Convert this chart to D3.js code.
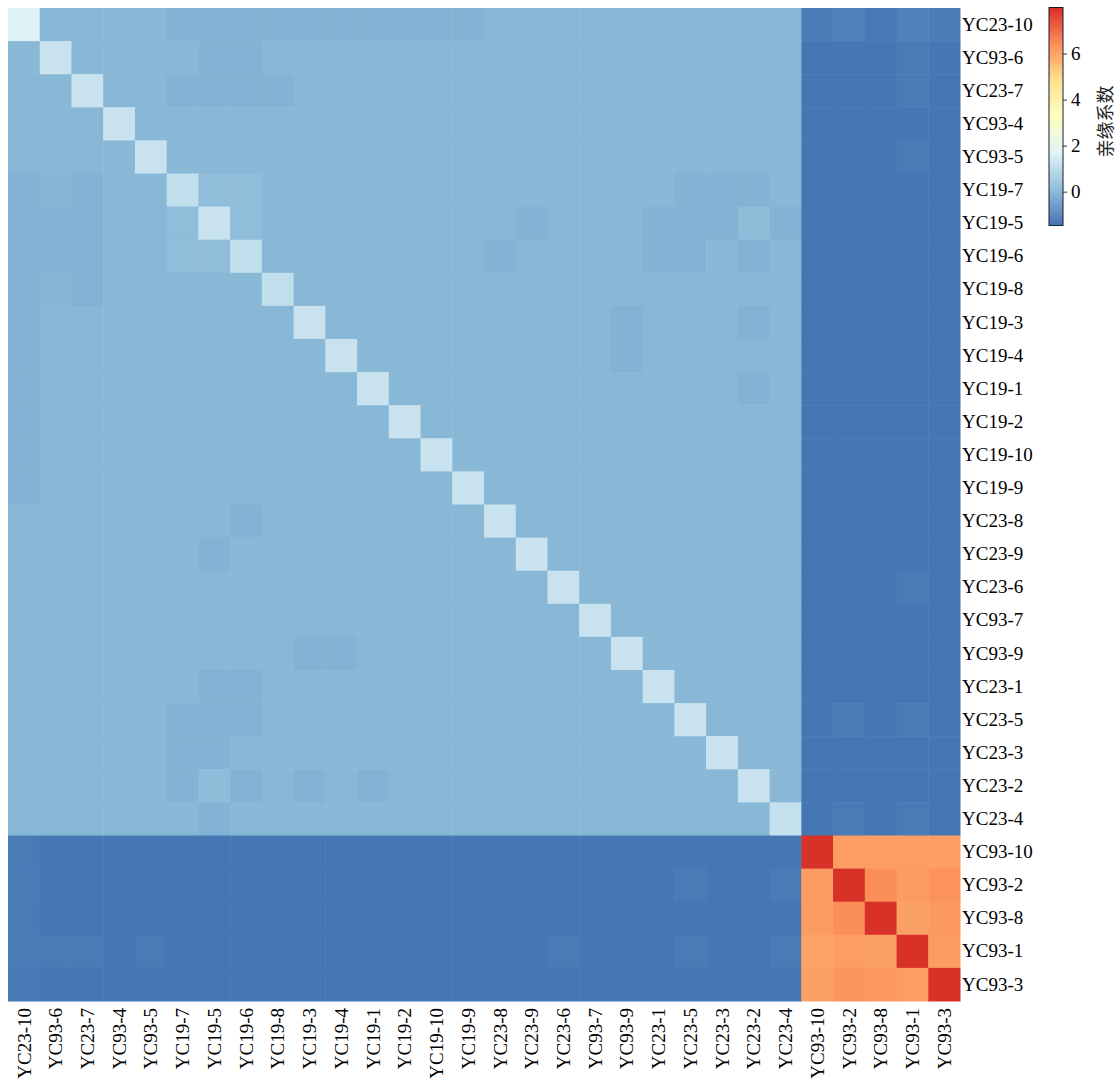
<!DOCTYPE html>
<html>
<head>
<meta charset="utf-8">
<script src="https://cdn.jsdelivr.net/npm/d3@7"></script>
<style>
  body { margin: 0; background: #fff; }
  text { font-family: "Liberation Serif", "Times New Roman", serif; }
</style>
</head>
<body>
<div id="vis"></div>
<script>
// sample order (same for rows and columns)
var samples = ["YC23-10","YC93-6","YC23-7","YC93-4","YC93-5","YC19-7","YC19-5","YC19-6","YC19-8","YC19-3",
  "YC19-4","YC19-1","YC19-2","YC19-10","YC19-9","YC23-8","YC23-9","YC23-6","YC93-7","YC93-9",
  "YC23-1","YC23-5","YC23-3","YC23-2","YC23-4","YC93-10","YC93-2","YC93-8","YC93-1","YC93-3"];

// kinship values, one row per sample
var kinship = [
  [1.62,-0.05,-0.05,-0.05,-0.05,-0.17,-0.17,-0.17,-0.17,-0.17,-0.17,-0.17,-0.17,-0.17,-0.17,-0.05,-0.05,-0.05,-0.05,-0.05,-0.05,-0.05,-0.05,-0.05,-0.05,-1.30,-1.20,-1.38,-1.22,-1.30],
  [-0.05,1.20,-0.05,-0.05,-0.05,-0.05,-0.17,-0.17,-0.05,-0.05,-0.05,-0.05,-0.05,-0.05,-0.05,-0.05,-0.05,-0.05,-0.05,-0.05,-0.05,-0.05,-0.05,-0.05,-0.05,-1.45,-1.45,-1.45,-1.35,-1.42],
  [-0.05,-0.05,1.20,-0.05,-0.05,-0.17,-0.17,-0.17,-0.17,-0.05,-0.05,-0.05,-0.05,-0.05,-0.05,-0.05,-0.05,-0.05,-0.05,-0.05,-0.05,-0.05,-0.05,-0.05,-0.05,-1.45,-1.45,-1.45,-1.35,-1.45],
  [-0.05,-0.05,-0.05,1.20,-0.05,-0.05,-0.05,-0.05,-0.05,-0.05,-0.05,-0.05,-0.05,-0.05,-0.05,-0.05,-0.05,-0.05,-0.05,-0.05,-0.05,-0.05,-0.05,-0.05,-0.05,-1.45,-1.45,-1.45,-1.45,-1.45],
  [-0.05,-0.05,-0.05,-0.05,1.20,-0.05,-0.05,-0.05,-0.05,-0.05,-0.05,-0.05,-0.05,-0.05,-0.05,-0.05,-0.05,-0.05,-0.05,-0.05,-0.05,-0.05,-0.05,-0.05,-0.05,-1.45,-1.45,-1.45,-1.35,-1.45],
  [-0.17,-0.10,-0.17,-0.05,-0.05,1.05,0.07,0.07,-0.05,-0.05,-0.05,-0.05,-0.05,-0.05,-0.05,-0.05,-0.05,-0.05,-0.05,-0.05,-0.05,-0.17,-0.17,-0.17,-0.05,-1.45,-1.45,-1.45,-1.45,-1.45],
  [-0.17,-0.17,-0.17,-0.05,-0.05,0.07,1.20,0.07,-0.05,-0.05,-0.05,-0.05,-0.05,-0.05,-0.05,-0.05,-0.17,-0.05,-0.05,-0.05,-0.17,-0.17,-0.17,0.04,-0.17,-1.45,-1.45,-1.45,-1.45,-1.45],
  [-0.17,-0.17,-0.17,-0.05,-0.05,0.07,0.07,1.05,-0.05,-0.05,-0.05,-0.05,-0.05,-0.05,-0.05,-0.17,-0.05,-0.05,-0.05,-0.05,-0.17,-0.17,-0.05,-0.17,-0.05,-1.45,-1.45,-1.45,-1.45,-1.45],
  [-0.17,-0.10,-0.17,-0.05,-0.05,-0.05,-0.05,-0.05,1.05,-0.05,-0.05,-0.05,-0.05,-0.05,-0.05,-0.05,-0.05,-0.05,-0.05,-0.05,-0.05,-0.05,-0.05,-0.05,-0.05,-1.45,-1.45,-1.45,-1.45,-1.45],
  [-0.17,-0.05,-0.05,-0.05,-0.05,-0.05,-0.05,-0.05,-0.05,1.20,-0.05,-0.05,-0.05,-0.05,-0.05,-0.05,-0.05,-0.05,-0.05,-0.17,-0.05,-0.05,-0.05,-0.17,-0.05,-1.45,-1.45,-1.45,-1.45,-1.45],
  [-0.17,-0.05,-0.05,-0.05,-0.05,-0.05,-0.05,-0.05,-0.05,-0.05,1.20,-0.05,-0.05,-0.05,-0.05,-0.05,-0.05,-0.05,-0.05,-0.17,-0.05,-0.05,-0.05,-0.05,-0.05,-1.45,-1.45,-1.45,-1.45,-1.45],
  [-0.17,-0.05,-0.05,-0.05,-0.05,-0.05,-0.05,-0.05,-0.05,-0.05,-0.05,1.20,-0.05,-0.05,-0.05,-0.05,-0.05,-0.05,-0.05,-0.05,-0.05,-0.05,-0.05,-0.17,-0.05,-1.45,-1.45,-1.45,-1.45,-1.45],
  [-0.17,-0.05,-0.05,-0.05,-0.05,-0.05,-0.05,-0.05,-0.05,-0.05,-0.05,-0.05,1.20,-0.05,-0.05,-0.05,-0.05,-0.05,-0.05,-0.05,-0.05,-0.05,-0.05,-0.05,-0.05,-1.45,-1.45,-1.45,-1.45,-1.45],
  [-0.17,-0.05,-0.05,-0.05,-0.05,-0.05,-0.05,-0.05,-0.05,-0.05,-0.05,-0.05,-0.05,1.20,-0.05,-0.05,-0.05,-0.05,-0.05,-0.05,-0.05,-0.05,-0.05,-0.05,-0.05,-1.45,-1.45,-1.45,-1.45,-1.45],
  [-0.17,-0.05,-0.05,-0.05,-0.05,-0.05,-0.05,-0.05,-0.05,-0.05,-0.05,-0.05,-0.05,-0.05,1.20,-0.05,-0.05,-0.05,-0.05,-0.05,-0.05,-0.05,-0.05,-0.05,-0.05,-1.45,-1.45,-1.45,-1.45,-1.45],
  [-0.05,-0.05,-0.05,-0.05,-0.05,-0.05,-0.05,-0.17,-0.05,-0.05,-0.05,-0.05,-0.05,-0.05,-0.05,1.20,-0.05,-0.05,-0.05,-0.05,-0.05,-0.05,-0.05,-0.05,-0.05,-1.45,-1.45,-1.45,-1.45,-1.45],
  [-0.05,-0.05,-0.05,-0.05,-0.05,-0.05,-0.17,-0.05,-0.05,-0.05,-0.05,-0.05,-0.05,-0.05,-0.05,-0.05,1.20,-0.05,-0.05,-0.05,-0.05,-0.05,-0.05,-0.05,-0.05,-1.45,-1.45,-1.45,-1.45,-1.45],
  [-0.05,-0.05,-0.05,-0.05,-0.05,-0.05,-0.05,-0.05,-0.05,-0.05,-0.05,-0.05,-0.05,-0.05,-0.05,-0.05,-0.05,1.20,-0.05,-0.05,-0.05,-0.05,-0.05,-0.05,-0.05,-1.45,-1.45,-1.45,-1.35,-1.45],
  [-0.05,-0.05,-0.05,-0.05,-0.05,-0.05,-0.05,-0.05,-0.05,-0.05,-0.05,-0.05,-0.05,-0.05,-0.05,-0.05,-0.05,-0.05,1.20,-0.05,-0.05,-0.05,-0.05,-0.05,-0.05,-1.45,-1.45,-1.45,-1.45,-1.45],
  [-0.05,-0.05,-0.05,-0.05,-0.05,-0.05,-0.05,-0.05,-0.05,-0.17,-0.17,-0.05,-0.05,-0.05,-0.05,-0.05,-0.05,-0.05,-0.05,1.20,-0.05,-0.05,-0.05,-0.05,-0.05,-1.45,-1.45,-1.45,-1.45,-1.45],
  [-0.05,-0.05,-0.05,-0.05,-0.05,-0.05,-0.17,-0.17,-0.05,-0.05,-0.05,-0.05,-0.05,-0.05,-0.05,-0.05,-0.05,-0.05,-0.05,-0.05,1.20,-0.05,-0.05,-0.05,-0.05,-1.45,-1.45,-1.45,-1.45,-1.45],
  [-0.05,-0.05,-0.05,-0.05,-0.05,-0.17,-0.17,-0.17,-0.05,-0.05,-0.05,-0.05,-0.05,-0.05,-0.05,-0.05,-0.05,-0.05,-0.05,-0.05,-0.05,1.20,-0.05,-0.05,-0.05,-1.45,-1.35,-1.45,-1.35,-1.45],
  [-0.05,-0.05,-0.05,-0.05,-0.05,-0.17,-0.17,-0.05,-0.05,-0.05,-0.05,-0.05,-0.05,-0.05,-0.05,-0.05,-0.05,-0.05,-0.05,-0.05,-0.05,-0.05,1.20,-0.05,-0.05,-1.45,-1.45,-1.45,-1.45,-1.45],
  [-0.05,-0.05,-0.05,-0.05,-0.05,-0.17,0.04,-0.17,-0.05,-0.17,-0.05,-0.17,-0.05,-0.05,-0.05,-0.05,-0.05,-0.05,-0.05,-0.05,-0.05,-0.05,-0.05,1.20,-0.05,-1.45,-1.45,-1.45,-1.45,-1.45],
  [-0.05,-0.05,-0.05,-0.05,-0.05,-0.05,-0.17,-0.05,-0.05,-0.05,-0.05,-0.05,-0.05,-0.05,-0.05,-0.05,-0.05,-0.05,-0.05,-0.05,-0.05,-0.05,-0.05,-0.05,1.15,-1.45,-1.35,-1.45,-1.35,-1.45],
  [-1.35,-1.45,-1.45,-1.45,-1.45,-1.45,-1.45,-1.45,-1.45,-1.45,-1.45,-1.45,-1.45,-1.45,-1.45,-1.45,-1.45,-1.45,-1.45,-1.45,-1.45,-1.45,-1.45,-1.45,-1.45,7.98,6.10,6.10,6.10,6.10],
  [-1.30,-1.45,-1.45,-1.45,-1.45,-1.45,-1.45,-1.45,-1.45,-1.45,-1.45,-1.45,-1.45,-1.45,-1.45,-1.45,-1.45,-1.45,-1.45,-1.45,-1.45,-1.35,-1.45,-1.45,-1.35,6.15,7.98,6.40,6.15,6.30],
  [-1.35,-1.45,-1.45,-1.45,-1.45,-1.45,-1.45,-1.45,-1.45,-1.45,-1.45,-1.45,-1.45,-1.45,-1.45,-1.45,-1.45,-1.45,-1.45,-1.45,-1.45,-1.45,-1.45,-1.45,-1.45,6.15,6.40,7.98,6.05,6.20],
  [-1.32,-1.35,-1.35,-1.45,-1.35,-1.45,-1.45,-1.45,-1.45,-1.45,-1.45,-1.45,-1.45,-1.45,-1.45,-1.45,-1.45,-1.35,-1.45,-1.45,-1.45,-1.35,-1.45,-1.45,-1.35,6.00,6.10,6.05,7.98,6.15],
  [-1.38,-1.45,-1.45,-1.45,-1.45,-1.45,-1.45,-1.45,-1.45,-1.45,-1.45,-1.45,-1.45,-1.45,-1.45,-1.45,-1.45,-1.45,-1.45,-1.45,-1.45,-1.45,-1.45,-1.45,-1.45,6.05,6.25,6.20,6.10,7.98]
];

// legend range and ticks
var legendRange = [-1.47, 8.0];
var legendTicks = [0, 2, 4, 6];
var legendTitle = "亲缘系数";

// rev(RdYlBu 7)
var palette = ["#4575B4","#91BFDB","#E0F3F8","#FFFFBF","#FEE090","#FC8D59","#D73027"];

var w = 1119, h = 1086;

var svg = d3.select("#vis").append("svg")
  .attr("width", w)
  .attr("height", h);

var x = d3.scaleBand().domain(samples).range([8, 960]);
var y = d3.scaleBand().domain(samples).range([8, 1001]);

var colorStops = d3.range(palette.length).map(function(i) {
  return legendRange[0] + i * (legendRange[1] - legendRange[0]) / (palette.length - 1);
});
var color = d3.scaleLinear().domain(colorStops).range(palette).clamp(true);

// flatten into cells
var cells = [];
kinship.forEach(function(row, i) {
  row.forEach(function(v, j) {
    cells.push({ r: samples[i], c: samples[j], v: v });
  });
});

svg.append("g")
  .selectAll("rect")
  .data(cells)
  .enter()
  .append("rect")
  .attr("x", function(d) { return x(d.c); })
  .attr("y", function(d) { return y(d.r); })
  .attr("width", x.bandwidth() + 0.5)
  .attr("height", y.bandwidth() + 0.5)
  .attr("fill", function(d) { return color(d.v); });

// row labels on the right
var rowAxis = svg.append("g")
  .attr("transform", "translate(960,0)")
  .call(d3.axisRight(y).tickSize(0).tickPadding(2));
rowAxis.select(".domain").remove();
rowAxis.selectAll("text")
  .style("font-family", "'Liberation Serif', 'Times New Roman', serif")
  .style("font-size", "19px")
  .attr("fill", "#000");

// column labels at the bottom, rotated
var colAxis = svg.append("g")
  .attr("transform", "translate(0,1001)")
  .call(d3.axisBottom(x).tickSize(0));
colAxis.select(".domain").remove();
colAxis.selectAll("text")
  .style("font-family", "'Liberation Serif', 'Times New Roman', serif")
  .style("font-size", "19px")
  .attr("fill", "#000")
  .attr("text-anchor", "end")
  .attr("transform", "rotate(-90)")
  .attr("x", -7)
  .attr("y", 0)
  .attr("dy", "0.35em");

// colour legend
var lx = 1049, lw = 14;
var ly = d3.scaleLinear().domain(legendRange).range([225.5, 7.5]);

var grad = svg.append("defs").append("linearGradient")
  .attr("id", "legendGrad")
  .attr("x1", 0).attr("y1", 1).attr("x2", 0).attr("y2", 0);
grad.selectAll("stop")
  .data(colorStops)
  .enter()
  .append("stop")
  .attr("offset", function(d, i) { return i / (colorStops.length - 1); })
  .attr("stop-color", function(d) { return color(d); });

svg.append("rect")
  .attr("x", lx)
  .attr("y", ly(legendRange[1]))
  .attr("width", lw)
  .attr("height", ly(legendRange[0]) - ly(legendRange[1]))
  .attr("fill", "url(#legendGrad)")
  .attr("stroke", "#1a1a2e")
  .attr("stroke-width", 1);

var legAxis = svg.append("g")
  .attr("transform", "translate(" + (lx + lw) + ",0)")
  .call(d3.axisRight(ly).tickValues(legendTicks).tickSize(4).tickPadding(4).tickFormat(d3.format("d")));
legAxis.select(".domain").remove();
legAxis.selectAll("line").attr("stroke", "#333");
legAxis.selectAll("text")
  .style("font-family", "'Liberation Serif', 'Times New Roman', serif")
  .style("font-size", "19px")
  .attr("fill", "#000");

svg.append("text")
  .attr("transform", "translate(1106," + ly(3.05) + ") rotate(-90)")
  .attr("text-anchor", "middle")
  .attr("dy", "0.35em")
  .style("font-family", "'Noto Sans CJK SC', sans-serif")
  .style("font-size", "18px")
  .attr("fill", "#222")
  .text(legendTitle);
</script>
</body>
</html>
